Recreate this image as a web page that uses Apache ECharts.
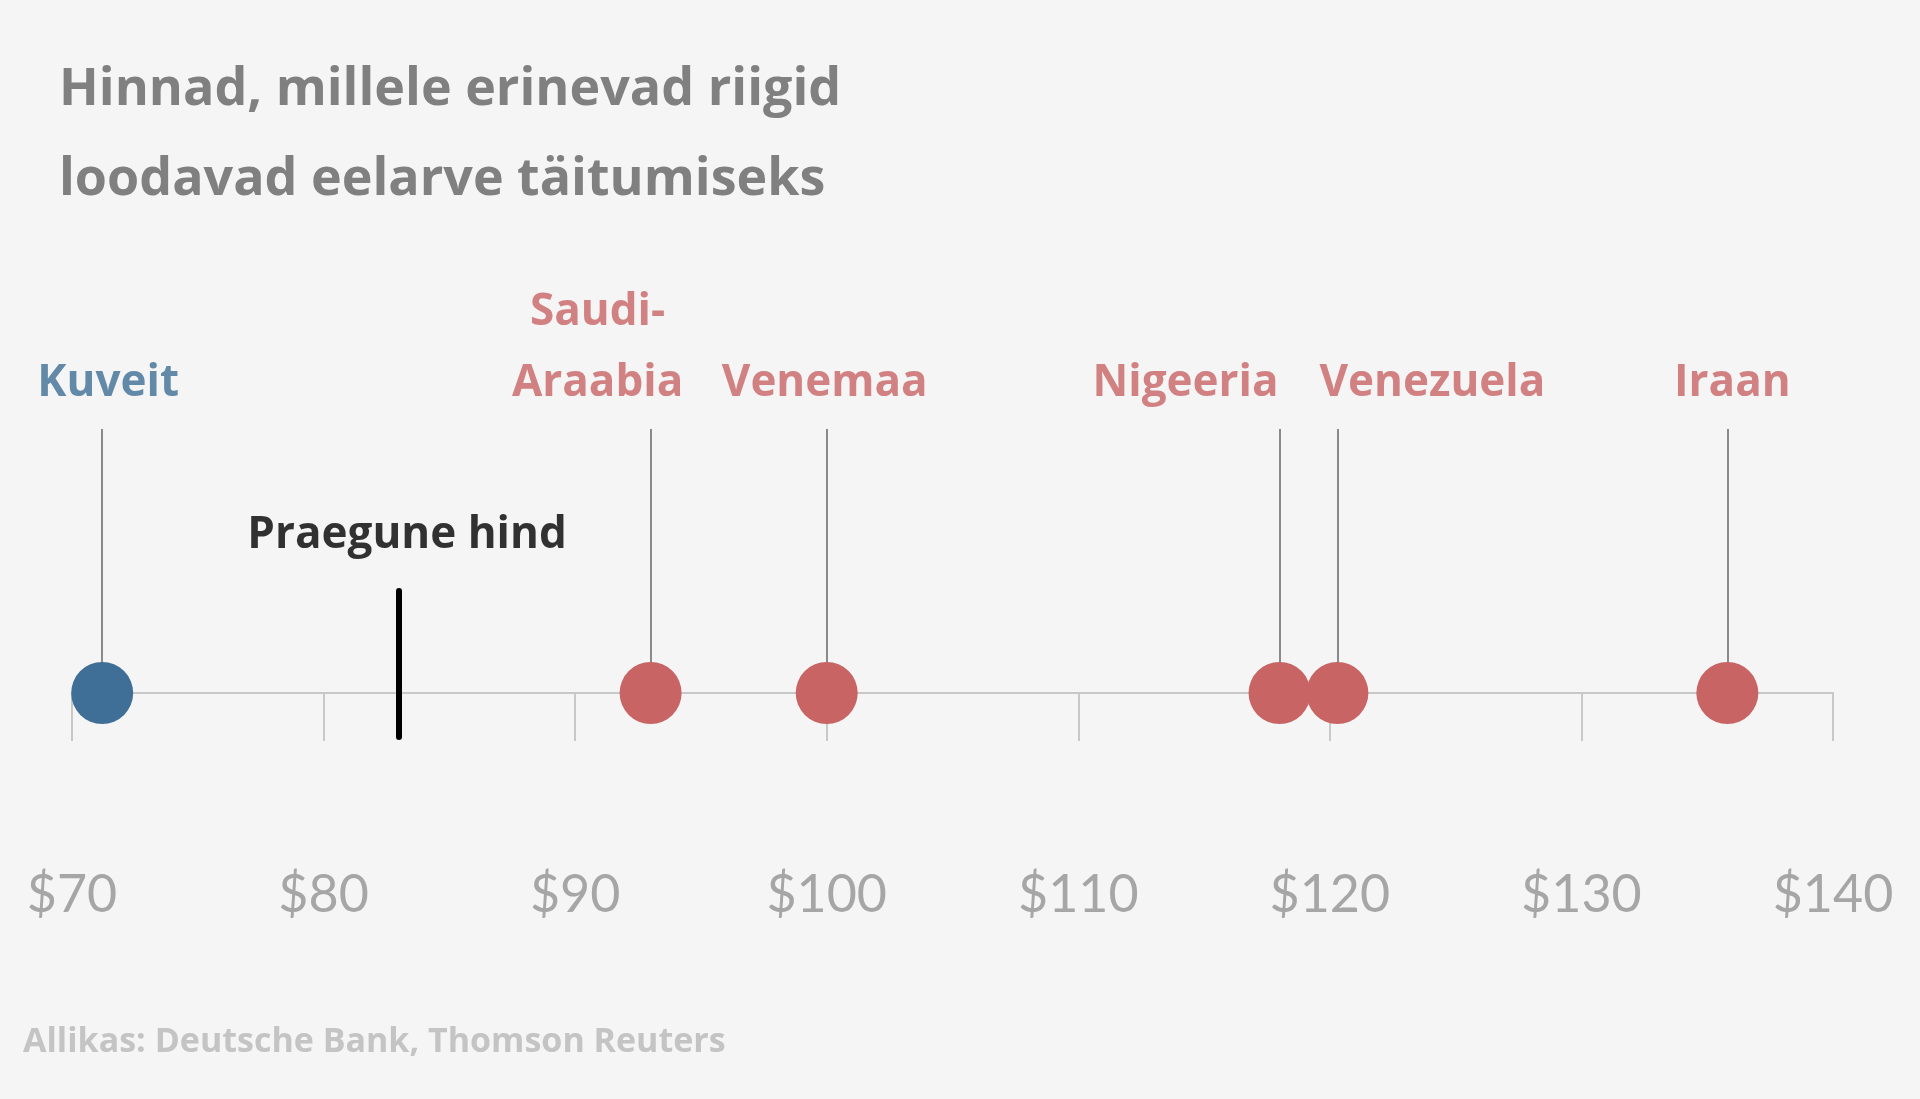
<!DOCTYPE html>
<html>
<head>
<meta charset="utf-8">
<script src="https://cdn.jsdelivr.net/npm/echarts@6/dist/echarts.min.js"></script>
<style>
html,body{margin:0;padding:0;background:#f5f5f5;}
#chart{width:1920px;height:1099px;}
</style>
</head>
<body>
<div id="chart"></div>
<script>
// andmed
const countries = ['Kuveit', 'Saudi-\nAraabia', 'Venemaa', 'Nigeeria', 'Venezuela', 'Iraan'];
const prices = [71.2, 93, 100, 118, 120.3, 135.8];
const colors = ['#3f6e96', '#c86464', '#c86464', '#c86464', '#c86464', '#c86464'];
const labelOffsets = [[6, 0], [-53, -35], [-2, 0], [-94, 0], [95, 0], [5, 0]];
const currentPrice = 83;
const tickMin = 70, tickMax = 140, tickStep = 10;

const chart = echarts.init(document.getElementById('chart'));
const font = '"Open Sans", Lato, sans-serif';
const tickFont = 'Lato, sans-serif';

const option = {
    backgroundColor: '#f5f5f5',
    animation: false,
    title: [{
        text: 'Hinnad, millele erinevad riigid\nloodavad eelarve täitumiseks',
        left: 54, top: 40,
        textStyle: {fontFamily: font, fontSize: 52, fontWeight: 'bold', color: '#808080', lineHeight: 90}
    }, {
        text: 'Allikas: Deutsche Bank, Thomson Reuters',
        left: 18, top: 1020,
        textStyle: {fontFamily: font, fontSize: 34, fontWeight: 'bold', color: '#c4c4c4'}
    }],
    grid: {left: 72, right: 87, top: 293, height: 500},
    xAxis: {
        type: 'value', min: tickMin, max: tickMax, interval: tickStep,
        axisLine: {onZero: true, lineStyle: {color: '#c8c8c8', width: 2}},
        axisTick: {length: 48, lineStyle: {color: '#c8c8c8', width: 2}},
        splitLine: {show: false},
        axisLabel: {margin: 76, fontFamily: tickFont, fontSize: 52, color: '#a6a6a6', formatter: v => '$' + v}
    },
    yAxis: {type: 'value', min: -0.25, max: 1, show: false},
    series: [{
        type: 'scatter',
        symbolSize: 62,
        z: 5,
        itemStyle: {opacity: 1},
        data: prices.map((p, i) => ({value: [p, 0], itemStyle: {color: colors[i], opacity: 1}}))
    }, {
        type: 'scatter',
        symbolSize: 1,
        z: 2,
        itemStyle: {color: 'transparent'},
        data: prices.map((p, i) => ({
            value: [p, 0.775],
            label: {
                show: true, position: 'inside', formatter: countries[i], offset: labelOffsets[i],
                fontFamily: font, fontSize: 44, fontWeight: 'bold', color: colors[i], lineHeight: 71,
                align: 'center'
            }
        })),
        markLine: {
            silent: true, symbol: 'none', label: {show: false},
            data: prices.map(p => [{coord: [p, 0], lineStyle: {color: '#8a8a8a', width: 2, type: 'solid'}}, {coord: [p, 0.66]}])
                .concat([[{coord: [currentPrice, -0.11], lineStyle: {color: '#000', width: 6, type: 'solid', cap: 'round'}}, {coord: [currentPrice, 0.255]}]])
        }
    }, {
        type: 'scatter',
        symbolSize: 1,
        itemStyle: {color: 'transparent'},
        data: [{
            value: [currentPrice, 0.395],
            label: {show: true, position: 'inside', formatter: 'Praegune hind', offset: [8, 0],
                fontFamily: font, fontSize: 44, fontWeight: 'bold', color: '#000'}
        }, {
            value: [currentPrice, -0.258],
            label: {show: true, position: 'inside', formatter: '$' + currentPrice,
                fontFamily: tickFont, fontSize: 52, fontWeight: 'bold', color: '#222'}
        }]
    }]
};

chart.setOption(option);
</script>
</body>
</html>
